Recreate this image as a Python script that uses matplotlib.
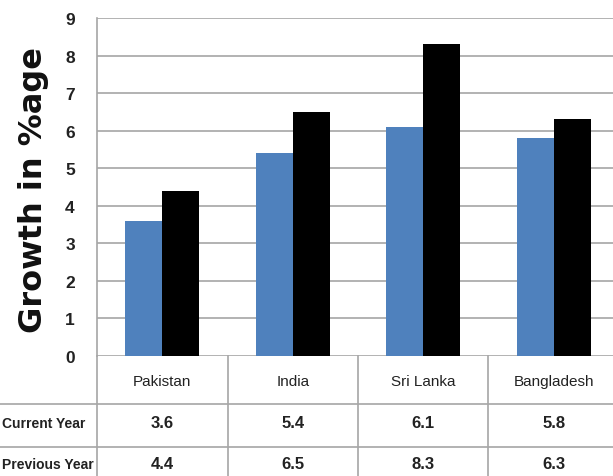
import numpy as np
import matplotlib
matplotlib.use("Agg")
import matplotlib.pyplot as plt
from matplotlib.transforms import blended_transform_factory
from matplotlib.lines import Line2D

countries = ["Pakistan", "India", "Sri Lanka", "Bangladesh"]
current_year = [3.6, 5.4, 6.1, 5.8]
previous_year = [4.4, 6.5, 8.3, 6.3]
row_names = ["Current Year", "Previous Year"]
yticks = list(range(0, 10))

W, H = 613, 477
fig = plt.figure(figsize=(W / 100, H / 100), dpi=100)

# plot area in pixels (top-left origin)
left, right, top, bottom = 97, 619, 19, 357
ax = fig.add_axes([left / W, 1 - bottom / H, (right - left) / W, (bottom - top) / H])

fnt = "Liberation Sans"
x = np.arange(len(countries))
bw = 0.285
ax.bar(x - bw / 2, current_year, bw, color="#4f81bd", zorder=3)
ax.bar(x + bw / 2, previous_year, bw, color="#000000", zorder=3)

ax.set_xlim(-0.5, len(countries) - 0.5)
ax.set_ylim(0, 9)
ax.set_yticks(yticks)
ax.set_yticklabels([str(t) for t in yticks], fontfamily=fnt, fontsize=12.5, fontweight="bold", color="#222222")
ax.tick_params(axis="y", length=0, pad=16)
ax.set_xticks([])
ax.grid(axis="y", color="#a6a6a6", linewidth=1.2, zorder=0)
for s in ["top", "right", "bottom"]:
    ax.spines[s].set_visible(False)
ax.spines["left"].set_color("#a6a6a6")
ax.spines["left"].set_linewidth(1.2)

fig.text(34 / W, 1 - 190 / H, "Growth in %age", rotation=90, ha="center", va="center",
         fontsize=23, fontweight="bold", family="DejaVu Sans", color="#111111")

# data table below the axis
tr = blended_transform_factory(ax.transData, fig.transFigure)
line_kw = dict(color="#a6a6a6", linewidth=1.2)
for yy in [405, 448]:
    fig.add_artist(Line2D([0, 1], [1 - yy / H, 1 - yy / H], transform=fig.transFigure, **line_kw))
for xx in np.arange(-0.5, len(countries) - 0.5):
    fig.add_artist(Line2D([xx, xx], [1 - bottom / H, 0], transform=tr, **line_kw))

for i, c in enumerate(countries):
    fig.text(i, 1 - 382 / H, c, transform=tr, ha="center", va="center",
             fontsize=11, family=fnt, color="#222222")
row_y = [424, 465]
for r, (name, vals) in enumerate(zip(row_names, [current_year, previous_year])):
    fig.text(2 / W, 1 - row_y[r] / H, name, ha="left", va="center", fontsize=10,
             family=fnt, fontweight="bold", color="#222222")
    for i, v in enumerate(vals):
        fig.text(i, 1 - row_y[r] / H, f"{v:.1f}", transform=tr, ha="center", va="center",
                 fontsize=12, family=fnt, fontweight="bold", color="#222222")

fig.savefig("out.png", dpi=100)
